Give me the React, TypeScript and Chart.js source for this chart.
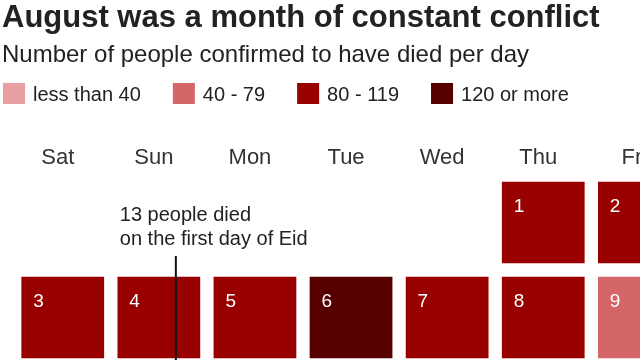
import React, { useEffect, useRef } from 'react';
import { Chart, registerables } from 'chart.js';

Chart.register(...registerables);

const FONT = '"Liberation Sans", Arial, Helvetica, sans-serif';

const TITLE = 'August was a month of constant conflict';
const SUBTITLE = 'Number of people confirmed to have died per day';

const weekdays = ['Sat', 'Sun', 'Mon', 'Tue', 'Wed', 'Thu', 'Fri'];
const dates = [1, 2, 3, 4, 5, 6, 7, 8, 9];
const dateWeekdays = ['Thu', 'Fri', 'Sat', 'Sun', 'Mon', 'Tue', 'Wed', 'Thu', 'Fri'];
const dateWeeks = [0, 0, 1, 1, 1, 1, 1, 1, 1];
// index into bandLabels / bandColors
const dateBands = [2, 2, 2, 2, 2, 3, 2, 2, 1];

const bandLabels = ['less than 40', '40 - 79', '80 - 119', '120 or more'];
const bandColors = ['#e8a0a2', '#d4666a', '#990000', '#570000'];

const annotationDate = 4;
const annotationLines = ['13 people died', 'on the first day of Eid'];

const GAP = 7; // half of the white gap between squares

function buildDatasets() {
  const weeks = Array.from(new Set(dateWeeks));
  return weeks.map((w) => {
    const idxs = weekdays.map((day) =>
      dates.findIndex((_, i) => dateWeeks[i] === w && dateWeekdays[i] === day)
    );
    return {
      label: 'Week ' + (w + 1),
      data: idxs.map((i) => (i >= 0 ? [w, w + 1] : null)),
      backgroundColor: idxs.map((i) => (i >= 0 ? bandColors[dateBands[i]] : 'rgba(0,0,0,0)')),
      dates: idxs.map((i) => (i >= 0 ? dates[i] : null)),
      borderColor: '#ffffff',
      borderWidth: GAP,
      borderSkipped: false,
      grouped: false,
      categoryPercentage: 1,
      barPercentage: 1,
    };
  });
}

const cellLabelPlugin = {
  id: 'cellLabels',
  afterDatasetsDraw(chart: any) {
    const ctx = chart.ctx;
    ctx.save();
    ctx.font = `19px ${FONT}`;
    ctx.fillStyle = '#ffffff';
    ctx.textBaseline = 'alphabetic';
    ctx.textAlign = 'left';
    chart.data.datasets.forEach((ds: any, di: number) => {
      const meta = chart.getDatasetMeta(di);
      meta.data.forEach((el: any, i: number) => {
        const d = ds.dates[i];
        if (d == null) return;
        const { x, y, base, width } = el.getProps(['x', 'y', 'base', 'width'], true);
        const left = x - width / 2 + GAP;
        const top = Math.min(y, base) + GAP;
        ctx.fillText(String(d), left + 11.5, top + 30);
      });
    });
    ctx.restore();
  },
};

const annotationPlugin = {
  id: 'eidAnnotation',
  afterDatasetsDraw(chart: any) {
    const i = dates.indexOf(annotationDate);
    if (i < 0) return;
    const weeks = Array.from(new Set(dateWeeks));
    const di = weeks.indexOf(dateWeeks[i]);
    const xi = weekdays.indexOf(dateWeekdays[i]);
    const el: any = chart.getDatasetMeta(di).data[xi];
    if (!el) return;
    const { x, y, base, width } = el.getProps(['x', 'y', 'base', 'width'], true);
    const left = x - width / 2 + GAP;
    const top = Math.min(y, base) + GAP;
    const ctx = chart.ctx;
    ctx.save();
    ctx.strokeStyle = '#111111';
    ctx.lineWidth = 2;
    ctx.beginPath();
    ctx.moveTo(x + 17, top - 21);
    ctx.lineTo(x + 17, chart.height);
    ctx.stroke();
    ctx.font = `20px ${FONT}`;
    ctx.fillStyle = '#222222';
    ctx.textAlign = 'left';
    ctx.textBaseline = 'alphabetic';
    ctx.fillText(annotationLines[0], left + 2, top - 56);
    ctx.fillText(annotationLines[1], left + 2, top - 32);
    ctx.restore();
  },
};

const bandLegendPlugin = {
  id: 'bandLegend',
  afterDraw(chart: any) {
    const ctx = chart.ctx;
    ctx.save();
    ctx.font = `20px ${FONT}`;
    ctx.textBaseline = 'alphabetic';
    ctx.textAlign = 'left';
    let x = 3;
    bandLabels.forEach((label, i) => {
      ctx.fillStyle = bandColors[i];
      ctx.fillRect(x, 83, 22, 21);
      ctx.fillStyle = '#222222';
      ctx.fillText(label, x + 30, 101);
      x += 30 + ctx.measureText(label).width + 32;
    });
    ctx.restore();
  },
};

export default function App() {
  const canvasRef = useRef<HTMLCanvasElement | null>(null);

  useEffect(() => {
    if (!canvasRef.current) return;
    const chart = new Chart(canvasRef.current, {
      type: 'bar',
      data: {
        labels: weekdays,
        datasets: buildDatasets() as any,
      },
      options: {
        responsive: false,
        animation: false,
        events: [],
        layout: { padding: { left: 2, right: 12.6, top: 0, bottom: 7 } },
        plugins: {
          legend: { display: false },
          tooltip: { enabled: false },
          title: {
            display: true,
            text: TITLE,
            align: 'start',
            color: '#222222',
            font: { family: FONT, size: 31, weight: 'bold' },
            padding: { top: 0, bottom: 0 },
          },
          subtitle: {
            display: true,
            text: SUBTITLE,
            align: 'start',
            color: '#222222',
            font: { family: FONT, size: 24 },
            padding: { top: 4, bottom: 70.6 },
          },
        },
        scales: {
          x: {
            type: 'category',
            position: 'top',
            offset: true,
            grid: { display: false, drawTicks: false },
            border: { display: false },
            ticks: {
              color: '#333333',
              font: { family: FONT, size: 22 },
              padding: 4,
              labelOffset: -5,
              maxRotation: 0,
              autoSkip: false,
            },
          },
          y: {
            type: 'linear',
            reverse: true,
            min: 0,
            max: 2,
            display: true,
            grid: { display: false, drawTicks: false },
            border: { display: false },
            ticks: { display: false },
            afterFit: (s: any) => {
              s.width = 12.7;
            },
          },
        },
      } as any,
      plugins: [cellLabelPlugin, annotationPlugin, bandLegendPlugin],
    });
    return () => chart.destroy();
  }, []);

  return (
    <div
      style={{
        position: 'absolute',
        left: 0,
        top: 0,
        width: 640,
        height: 360,
        overflow: 'hidden',
        background: '#ffffff',
      }}
    >
      <canvas ref={canvasRef} width={700} height={372} style={{ display: 'block' }} />
    </div>
  );
}
